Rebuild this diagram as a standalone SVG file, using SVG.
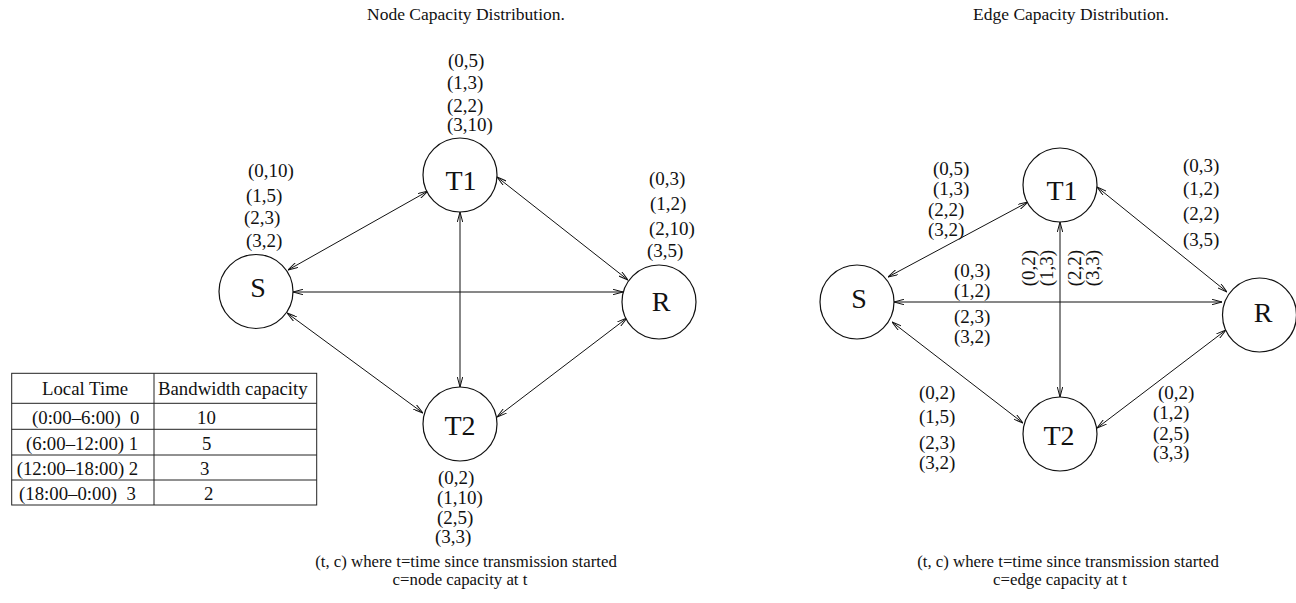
<svg xmlns="http://www.w3.org/2000/svg" width="1296" height="603" viewBox="0 0 1296 603">
<style>
text{font-family:"Liberation Serif","Times New Roman",serif;fill:#111}
.title{font-size:17.5px;text-anchor:middle}
.cap{font-size:16.8px;text-anchor:middle}
.lbl{font-size:19px}
.tbl{font-size:18.8px}
.node circle{fill:#fff;stroke:#111;stroke-width:1.2}
.node text{font-size:28px;text-anchor:middle}
.edges line{stroke:#111;stroke-width:1;marker-start:url(#ah);marker-end:url(#ah)}
.grid line,.grid rect{stroke:#222;stroke-width:1;fill:none}
</style>
<defs>
<marker id="ah" viewBox="0 0 10 6" refX="10" refY="3" markerWidth="10" markerHeight="6" markerUnits="userSpaceOnUse" orient="auto-start-reverse">
<path d="M0,0.3 L10,3 L0,5.7" fill="none" stroke="#111" stroke-width="1"/>
</marker>
</defs>
<rect width="1296" height="603" fill="#fff"/>

<text class="title" x="466" y="20">Node Capacity Distribution.</text>
<text class="title" x="1071" y="20">Edge Capacity Distribution.</text>

<!-- left graph connectors -->
<g id="edges-left" class="edges">
<line x1="288" y1="270" x2="428" y2="191"/>
<line x1="497" y1="177" x2="628" y2="280"/>
<line x1="460" y1="212" x2="460" y2="387"/>
<line x1="293" y1="292" x2="623" y2="292"/>
<line x1="287" y1="313" x2="423" y2="413"/>
<line x1="627" y1="318" x2="497" y2="417"/>
</g>

<g id="nS" class="node"><circle cx="256" cy="291.5" r="37"/><text x="258" y="297">S</text></g>
<g id="nT1" class="node"><circle cx="460" cy="175" r="37"/><text x="461" y="190">T1</text></g>
<g id="nT2" class="node"><circle cx="460" cy="424" r="37"/><text x="460" y="435">T2</text></g>
<g id="nR" class="node"><circle cx="659" cy="302" r="37"/><text x="661" y="311">R</text></g>

<g id="labels-left">
<text class="lbl" x="448" y="67">(0,5)</text>
<text class="lbl" x="447" y="89">(1,3)</text>
<text class="lbl" x="447" y="112">(2,2)</text>
<text class="lbl" x="447" y="131">(3,10)</text>
<text class="lbl" x="248" y="177">(0,10)</text>
<text class="lbl" x="246" y="202">(1,5)</text>
<text class="lbl" x="244" y="224">(2,3)</text>
<text class="lbl" x="246" y="247">(3,2)</text>
<text class="lbl" x="649" y="185">(0,3)</text>
<text class="lbl" x="650" y="210">(1,2)</text>
<text class="lbl" x="649" y="235">(2,10)</text>
<text class="lbl" x="647" y="257">(3,5)</text>
<text class="lbl" x="438" y="484">(0,2)</text>
<text class="lbl" x="437" y="504">(1,10)</text>
<text class="lbl" x="437" y="524">(2,5)</text>
<text class="lbl" x="435" y="543">(3,3)</text>
</g>

<g id="table">
<g class="grid">
<rect x="11.7" y="373.3" width="305" height="131.7"/>
<line x1="154" y1="373.3" x2="154" y2="505"/>
<line x1="11.7" y1="403.3" x2="316.7" y2="403.3"/>
<line x1="11.7" y1="429.3" x2="316.7" y2="429.3"/>
<line x1="11.7" y1="455" x2="316.7" y2="455"/>
<line x1="11.7" y1="480" x2="316.7" y2="480"/>
</g>
<text class="tbl" x="42" y="395">Local Time</text>
<text class="tbl" x="158" y="395">Bandwidth capacity</text>
<text class="tbl" x="32" y="424" xml:space="preserve">(0:00–6:00)  0</text>
<text class="tbl" x="26" y="450">(6:00–12:00) 1</text>
<text class="tbl" x="16.7" y="475">(12:00–18:00) 2</text>
<text class="tbl" x="19" y="500" xml:space="preserve">(18:00–0:00)  3</text>
<text class="tbl" x="197" y="424">10</text>
<text class="tbl" x="202" y="450">5</text>
<text class="tbl" x="200" y="475">3</text>
<text class="tbl" x="204" y="500">2</text>
</g>

<text class="cap" x="466" y="567">(t, c) where t=time since transmission started</text>
<text class="cap" x="460" y="585">c=node capacity at t</text>

<!-- right graph connectors -->
<g id="edges-right" class="edges">
<line x1="888" y1="277" x2="1028" y2="202"/>
<line x1="1097" y1="187" x2="1227" y2="292"/>
<line x1="894" y1="302" x2="1222" y2="302"/>
<line x1="1060" y1="222" x2="1060" y2="397"/>
<line x1="892" y1="322" x2="1023" y2="423"/>
<line x1="1226" y1="330" x2="1097" y2="428"/>
</g>

<g id="eS" class="node"><circle cx="857" cy="302" r="37"/><text x="859" y="308">S</text></g>
<g id="eT1" class="node"><circle cx="1060" cy="185" r="37"/><text x="1062" y="200">T1</text></g>
<g id="eT2" class="node"><circle cx="1060" cy="434" r="37"/><text x="1059" y="445">T2</text></g>
<g id="eR" class="node"><circle cx="1259.5" cy="315" r="37"/><text x="1263" y="322">R</text></g>

<g id="labels-right">
<text class="lbl" x="933" y="175">(0,5)</text>
<text class="lbl" x="933" y="195">(1,3)</text>
<text class="lbl" x="928" y="216">(2,2)</text>
<text class="lbl" x="928" y="236">(3,2)</text>
<text class="lbl" x="1183" y="172">(0,3)</text>
<text class="lbl" x="1183" y="195">(1,2)</text>
<text class="lbl" x="1183" y="220">(2,2)</text>
<text class="lbl" x="1183" y="246">(3,5)</text>
<text class="lbl" x="954" y="277">(0,3)</text>
<text class="lbl" x="954" y="297">(1,2)</text>
<text class="lbl" x="954" y="323">(2,3)</text>
<text class="lbl" x="954" y="343">(3,2)</text>
<text class="lbl" transform="translate(1035,268) rotate(-90)" text-anchor="middle">(0,2)</text>
<text class="lbl" transform="translate(1053,268) rotate(-90)" text-anchor="middle">(1,3)</text>
<text class="lbl" transform="translate(1081,268) rotate(-90)" text-anchor="middle">(2,2)</text>
<text class="lbl" transform="translate(1099,268) rotate(-90)" text-anchor="middle">(3,3)</text>
<text class="lbl" x="919" y="399">(0,2)</text>
<text class="lbl" x="919" y="423">(1,5)</text>
<text class="lbl" x="919" y="449">(2,3)</text>
<text class="lbl" x="919" y="469">(3,2)</text>
<text class="lbl" x="1158" y="399">(0,2)</text>
<text class="lbl" x="1153" y="419">(1,2)</text>
<text class="lbl" x="1153" y="440">(2,5)</text>
<text class="lbl" x="1153" y="459">(3,3)</text>
</g>

<text class="cap" x="1068" y="567">(t, c) where t=time since transmission started</text>
<text class="cap" x="1060" y="585">c=edge capacity at t</text>
</svg>
